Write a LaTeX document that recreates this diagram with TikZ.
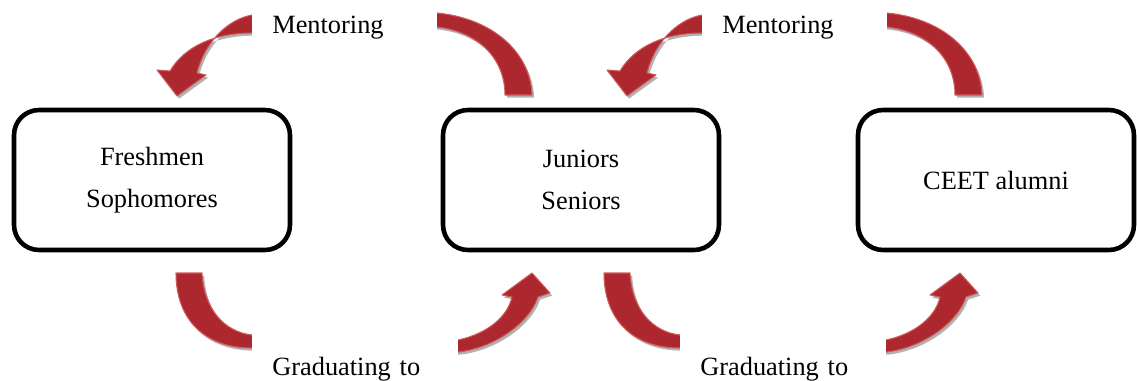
\documentclass[tikz,border=0pt]{standalone}
\usepackage{fontspec}
\setmainfont{Liberation Serif}
\usetikzlibrary{shadows}

\definecolor{arrowred}{RGB}{172,40,46}
\definecolor{arrowrim}{RGB}{208,90,90}

\tikzset{
  stage/.style={draw, line width=2.6pt, rounded corners=0.5cm,
    minimum width=5.52cm, minimum height=2.8cm, align=center,
    font=\fontsize{15}{24}\selectfont},
  bend arrow/.style={fill=arrowred, draw=arrowrim, line width=0.6pt, line join=round,
    drop shadow={shadow xshift=1.2pt, shadow yshift=-1.5pt, opacity=0.3, fill=black}},
  arrow text/.style={fill=white, anchor=base west, inner xsep=0.4cm, inner ysep=0pt,
    align=left, font=\fontsize{15}{18}\selectfont}
}

\begin{document}
\begin{tikzpicture}[x=0.02cm, y=-0.02cm]
    \useasboundingbox (0,0) rectangle (1137,380);
    % Stages.
    \node[stage] (lower) at (152,180) {Freshmen\\Sophomores};
    \node[stage] (upper) at (581,180) {Juniors\\Seniors};
    \node[stage] (alumni) at (996,180) {CEET alumni};
    % Mentoring arrows, going back.
    \foreach \dx in {0,450}{
      \begin{scope}[shift={(\dx,0)}]
      \draw[bend arrow] (505,95) -- (532,95)
        .. controls (530,50) and (490,18) .. (437,13) -- (252,15)
        .. controls (225,20) and (204,45) .. (197,73)
        -- (206,75) -- (177,96) -- (157,70) -- (170,71)
        .. controls (185,46) and (215,33) .. (252,33) -- (437,27)
        .. controls (480,32) and (505,60) .. (505,95) -- cycle;
      \end{scope}
    }
    % Graduating arrows, going on.
    \foreach \dx in {0,428}{
      \begin{scope}[shift={(\dx,0)}]
      \draw[bend arrow] (176,273) -- (202,273)
        .. controls (204,310) and (225,332) .. (252,335) -- (458,340)
        .. controls (490,333) and (508,315) .. (512,297)
        -- (502,295) -- (532,273) -- (550,293) -- (538,297)
        .. controls (530,322) and (495,348) .. (458,352) -- (252,348)
        .. controls (205,348) and (176,320) .. (176,273) -- cycle;
      \end{scope}
    }
    % Labels on the arrows.
    \node[arrow text, text width=2.9cm, text height=0.7cm, text depth=0.25cm] (mentorA) at (252,33) {Mentoring};
    \node[arrow text, text width=2.9cm, text height=0.7cm, text depth=0.25cm] (mentorB) at (702,33) {Mentoring};
    \node[arrow text, text width=3.32cm, text height=1cm, text depth=0.12cm] (gradA) at (252,375) {Graduating to};
    \node[arrow text, text width=3.32cm, text height=1cm, text depth=0.12cm] (gradB) at (680,375) {Graduating to};
\end{tikzpicture}
\end{document}
